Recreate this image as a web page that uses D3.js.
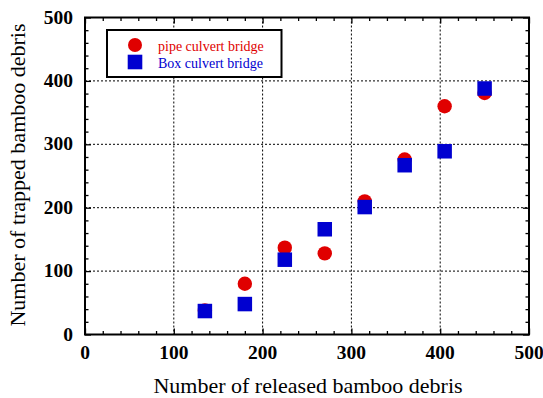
<!DOCTYPE html>
<html>
<head>
<meta charset="utf-8">
<script src="https://cdn.jsdelivr.net/npm/d3@7"></script>
<style>
  body { margin: 0; background: #fff; }
</style>
</head>
<body>
<div id="chart"></div>
<script>
// data
const released = [135, 180, 225, 270, 315, 360, 405, 450];
const pipeTrapped = [38, 80, 137, 128, 210, 276, 360, 381];
const boxTrapped = [37, 48, 118, 166, 201, 267, 289, 388];
const seriesNames = ["pipe culvert bridge", "Box culvert bridge"];
const xTicks = [0, 100, 200, 300, 400, 500];
const yTicks = [0, 100, 200, 300, 400, 500];

const W = 543, H = 398;
const plot = { left: 85, right: 529, top: 17.5, bottom: 334.5 };
const serif = "'Liberation Serif', 'DejaVu Serif', 'Times New Roman', serif";

let svg = d3.select("#chart").append("svg").attr("width", W).attr("height", H);

let x = d3.scaleLinear().domain([0, 500]).range([plot.left, plot.right]);
let y = d3.scaleLinear().domain([0, 500]).range([plot.bottom, plot.top]);

// grid
let grid = svg.append("g").attr("stroke", "#000").attr("stroke-width", 1).attr("stroke-dasharray", "2,2");
grid.selectAll(".gx").data(xTicks.slice(1, -1)).join("line")
  .attr("x1", d => x(d)).attr("x2", d => x(d))
  .attr("y1", plot.top).attr("y2", plot.bottom);
grid.selectAll(".gy").data(yTicks.slice(1, -1)).join("line")
  .attr("y1", d => y(d)).attr("y2", d => y(d))
  .attr("x1", plot.left).attr("x2", plot.right);

// inward ticks on all four sides
const minor = d3.range(0, 501, 20);
function tickLen(d) { return d % 100 === 0 ? 6 : 3.5; }
svg.append("g").call(d3.axisBottom(x).tickValues(minor).tickSize(0).tickFormat(""))
  .attr("transform", `translate(0,${plot.bottom})`).call(g => g.select(".domain").remove())
  .selectAll(".tick line").attr("y2", d => -tickLen(d));
svg.append("g").call(d3.axisTop(x).tickValues(minor).tickSize(0).tickFormat(""))
  .attr("transform", `translate(0,${plot.top})`).call(g => g.select(".domain").remove())
  .selectAll(".tick line").attr("y2", d => tickLen(d));
svg.append("g").call(d3.axisLeft(y).tickValues(minor).tickSize(0).tickFormat(""))
  .attr("transform", `translate(${plot.left},0)`).call(g => g.select(".domain").remove())
  .selectAll(".tick line").attr("x2", d => tickLen(d));
svg.append("g").call(d3.axisRight(y).tickValues(minor).tickSize(0).tickFormat(""))
  .attr("transform", `translate(${plot.right},0)`).call(g => g.select(".domain").remove())
  .selectAll(".tick line").attr("x2", d => -tickLen(d));
svg.selectAll(".tick line").attr("stroke", "#000").attr("stroke-width", 1.3);

// frame
svg.append("rect")
  .attr("x", plot.left).attr("y", plot.top)
  .attr("width", plot.right - plot.left).attr("height", plot.bottom - plot.top)
  .attr("fill", "none").attr("stroke", "#000").attr("stroke-width", 2);

// tick labels
svg.append("g").selectAll("text").data(xTicks).join("text")
  .attr("x", d => x(d)).attr("y", 358.5)
  .attr("text-anchor", "middle").style("font-family", serif).style("font-size", "19.5px").style("font-weight", "bold")
  .text(d => d);
svg.append("g").selectAll("text").data(yTicks).join("text")
  .attr("x", 73).attr("y", d => y(d) + 6)
  .attr("text-anchor", "end").style("font-family", serif).style("font-size", "19.5px").style("font-weight", "bold")
  .text(d => d);

// axis titles
svg.append("text").attr("x", 308).attr("y", 393)
  .attr("text-anchor", "middle").style("font-family", serif).style("font-size", "22px")
  .text("Number of released bamboo debris");
svg.append("text").attr("transform", "translate(25,175) rotate(-90)")
  .attr("text-anchor", "middle").style("font-family", serif).style("font-size", "22px")
  .text("Number of trapped bamboo debris");

const red = "#e00000", blue = "#0000d0";

// points
svg.append("g").selectAll("circle").data(released).join("circle")
  .attr("cx", d => x(d)).attr("cy", (d, i) => y(pipeTrapped[i]))
  .attr("r", 7.2).attr("fill", red);
const s = 14.5;
svg.append("g").selectAll("rect").data(released).join("rect")
  .attr("x", d => x(d) - s / 2).attr("y", (d, i) => y(boxTrapped[i]) - s / 2)
  .attr("width", s).attr("height", s).attr("fill", blue);

// legend
let lg = svg.append("g");
lg.append("rect").attr("x", 107).attr("y", 30).attr("width", 174.5).attr("height", 47)
  .attr("fill", "#fff").attr("stroke", "#000").attr("stroke-width", 2);
lg.append("circle").attr("cx", 135).attr("cy", 45).attr("r", 7).attr("fill", red);
lg.append("rect").attr("x", 135 - 7.3).attr("y", 62 - 7.3).attr("width", 14.6).attr("height", 14.6).attr("fill", blue);
lg.append("text").attr("x", 158).attr("y", 51).style("font-family", serif).style("font-size", "14px").attr("fill", red).text(seriesNames[0]);
lg.append("text").attr("x", 158).attr("y", 68).style("font-family", serif).style("font-size", "14px").attr("fill", blue).text(seriesNames[1]);
</script>
</body>
</html>
